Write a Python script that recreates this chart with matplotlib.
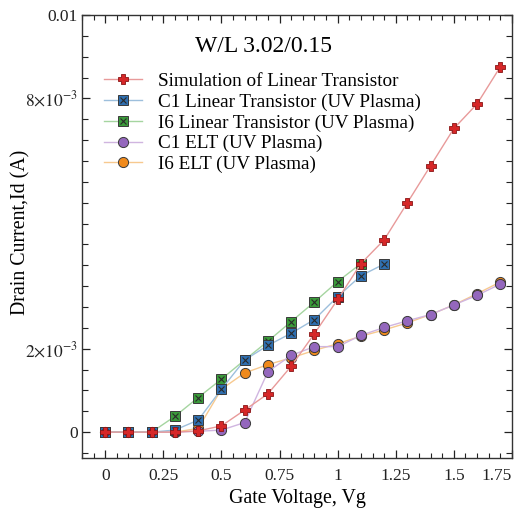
import numpy as np
import matplotlib
matplotlib.use("Agg")
import matplotlib.pyplot as plt
from matplotlib.ticker import MultipleLocator, FixedLocator, FixedFormatter

plt.rcParams['font.family'] = ['Liberation Serif', 'DejaVu Serif']
plt.rcParams['mathtext.fontset'] = 'stix'

# gate voltage steps
vg_sim = [0, 0.1, 0.2, 0.3, 0.4, 0.5, 0.6, 0.7, 0.8, 0.9, 1.0, 1.1, 1.2, 1.3, 1.4, 1.5, 1.6, 1.7]
vg_c1_lin = vg_sim[:13]
vg_i6_lin = vg_sim[:12]
vg_elt = vg_sim

# drain currents in mA (scaled to A below)
id_sim = [0, 0, 0, 0, 0.03, 0.15, 0.53, 0.92, 1.58, 2.36, 3.18, 4.04, 4.61, 5.50, 6.39, 7.28, 7.87, 8.76]
id_c1_lin = [0, 0, 0, 0.05, 0.29, 1.03, 1.73, 2.08, 2.37, 2.70, 3.25, 3.75, 4.03]
id_i6_lin = [0, 0, 0, 0.38, 0.83, 1.27, 1.73, 2.18, 2.65, 3.12, 3.61, 4.04]
id_c1_elt = [0, 0, 0, 0, 0.02, 0.05, 0.23, 1.45, 1.84, 2.05, 2.05, 2.32, 2.51, 2.67, 2.82, 3.05, 3.28, 3.55]
id_i6_elt = [0, 0, 0, 0, 0.09, 1.03, 1.42, 1.62, 1.78, 1.96, 2.12, 2.30, 2.45, 2.62, 2.82, 3.05, 3.32, 3.60]

labels = ["Simulation of Linear Transistor",
          "C1 Linear Transistor (UV Plasma)",
          "I6 Linear Transistor (UV Plasma)",
          "C1 ELT (UV Plasma)",
          "I6 ELT (UV Plasma)"]

xtick_vals = [0, 0.25, 0.5, 0.75, 1.0, 1.25, 1.5, 1.75]
xtick_labels = ["0", "0.25", "0.5", "0.75", "1", "1.25", "1.5", "1.75"]
ytick_vals = [0, 0.002, 0.008, 0.01]
ytick_labels = ["0", r"$2{\times}10^{-3}$", r"$8{\times}10^{-3}$", "0.01"]

fig = plt.figure(figsize=(5.17, 5.09), dpi=100)
ax = fig.add_axes([0.1586, 0.1002, 0.8317, 0.8703])

series = [
    (vg_sim, id_sim, '#d62728', '#e89a9a', 'P', False),
    (vg_c1_lin, id_c1_lin, '#2f6fb0', '#9dbfdc', 's', True),
    (vg_i6_lin, id_i6_lin, '#3a9a3a', '#a5d5a0', 's', True),
    (vg_elt, id_c1_elt, '#9467bd', '#d0b5e0', 'o', False),
    (vg_elt, id_i6_elt, '#f08a1c', '#f7c98f', 'o', False),
]

handles = [None] * len(series)
# draw back to front so the simulation sits on top
for i in reversed(range(len(series))):
    x, y, c, lc, m, boxed = series[i]
    y = np.array(y) * 1e-3
    z = 10 - 2 * i
    ln, = ax.plot(x, y, color=lc, lw=1.0, zorder=z)
    if m == 'P':
        mk, = ax.plot(x, y, ls='none', marker=m, ms=7, mfc=c, mec='#8a1515',
                      mew=0.6, zorder=z + 0.5)
    else:
        mk, = ax.plot(x, y, ls='none', marker=m, ms=7.3, mfc=c, mec='#3a3a3a',
                      mew=0.7, zorder=z + 0.5)
    h = [ln, mk]
    if boxed:
        xx, = ax.plot(x, y, ls='none', marker='x', ms=5, mec='#2a2a2a',
                      mew=0.8, zorder=z + 0.6)
        h.append(xx)
    handles[i] = tuple(h)

ax.set_xlim(-0.1, 1.75)
ax.set_ylim(-0.00062, 0.01)

ax.xaxis.set_major_locator(FixedLocator(xtick_vals))
ax.xaxis.set_major_formatter(FixedFormatter(xtick_labels))
ax.xaxis.set_minor_locator(MultipleLocator(0.05))
ax.yaxis.set_major_locator(FixedLocator(ytick_vals))
ax.yaxis.set_major_formatter(FixedFormatter(ytick_labels))
ax.yaxis.set_minor_locator(MultipleLocator(0.0005))

ax.tick_params(which='both', direction='in', top=True, right=True,
               labelsize=12.5, colors='#222222')
ax.tick_params(which='major', length=6, width=0.9)
ax.tick_params(axis='x', which='major', pad=7.5)
ax.tick_params(axis='y', which='major', pad=3)
ax.tick_params(which='minor', length=3.5, width=0.8)
ax.tick_params(axis='y', which='minor', length=4.5)
for lab in ax.get_xticklabels():
    if lab.get_text() == "1.75":
        lab.set_horizontalalignment('right')
for s in ax.spines.values():
    s.set_linewidth(1.0)
    s.set_color('#333333')

ax.set_xlabel("Gate Voltage, Vg", fontsize=14.3, labelpad=3)
ax.set_ylabel("Drain Current,Id (A)", fontsize=14.3)
ax.yaxis.set_label_coords(-0.12, 0.51)

ax.text(0.421, 0.928, "W/L 3.02/0.15", transform=ax.transAxes,
        ha='center', va='center', fontsize=17)
ax.legend(handles, labels, loc='upper left', bbox_to_anchor=(0.021, 0.90),
          frameon=False, fontsize=13.8, handlelength=1.95, handletextpad=0.85,
          labelspacing=0.17, borderaxespad=0.3)

fig.savefig("out.png", dpi=100)
